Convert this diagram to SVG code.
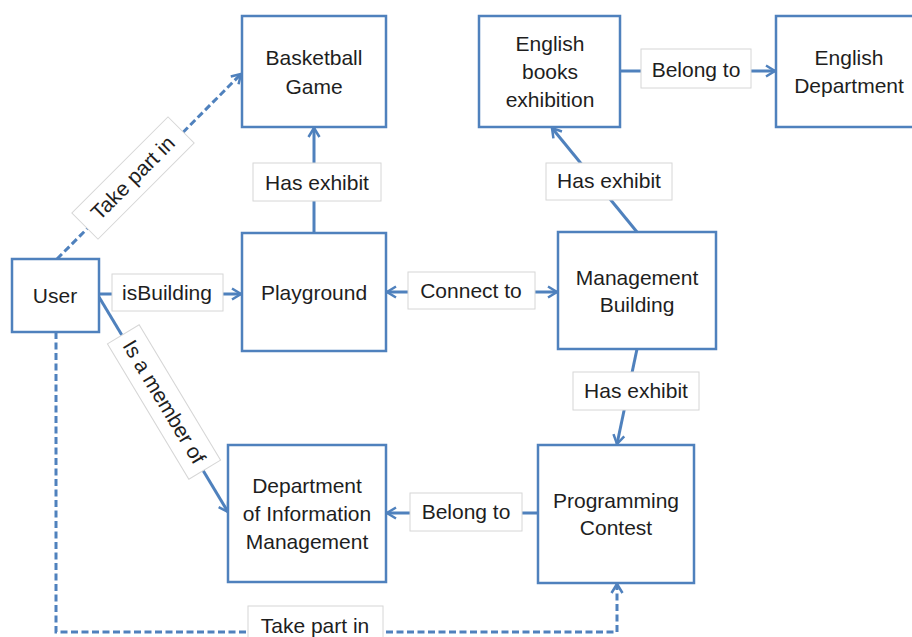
<svg xmlns="http://www.w3.org/2000/svg" width="912" height="637" viewBox="0 0 912 637">
<style>
.node rect{fill:#fff;stroke:#4F81BD;stroke-width:2.5}
.node text,.lbl text{font-family:"Liberation Sans",Arial,sans-serif;font-size:21px;fill:#1e1e1e;text-anchor:middle}
.lbl rect{fill:#fff;stroke:#d6d6d6;stroke-width:1}
.edge{fill:none;stroke:#4F81BD;stroke-width:3}
.dash{stroke-dasharray:7 3.5}
</style>
<defs>
<marker id="arr" markerUnits="userSpaceOnUse" markerWidth="14" markerHeight="14" viewBox="0 0 14 14" refX="11" refY="7" orient="auto-start-reverse">
<path d="M2,1.5 L11,7 L2,12.5" fill="none" stroke="#4F81BD" stroke-width="2.5"/>
</marker>
</defs>
<g id="connectors">
<path class="edge dash" d="M57,259 L241,74" marker-end="url(#arr)"/>
<path class="edge" d="M99,294 L241,294" marker-end="url(#arr)"/>
<path class="edge" d="M99,297 L228,512" marker-end="url(#arr)"/>
<path class="edge" d="M314,233 L314,128" marker-end="url(#arr)"/>
<path class="edge" d="M387,292 L557,292" marker-start="url(#arr)" marker-end="url(#arr)"/>
<path class="edge" d="M637,232 L552,128" marker-end="url(#arr)"/>
<path class="edge" d="M620,71 L775,71" marker-end="url(#arr)"/>
<path class="edge" d="M637,349 L617,444" marker-end="url(#arr)"/>
<path class="edge" d="M537,513 L387,513" marker-end="url(#arr)"/>
<path class="edge dash" d="M56,332 L56,632 L617,632 L617,584" marker-end="url(#arr)"/>
</g>
<g id="labels">
<g class="lbl" transform="translate(133,178) rotate(-45)"><rect x="-68" y="-18.5" width="136" height="37"/><text x="0" y="7">Take part in</text></g>
<g class="lbl"><rect x="112" y="274" width="111" height="37"/><text x="167" y="300">isBuilding</text></g>
<g class="lbl"><rect x="253" y="163" width="128" height="38"/><text x="317" y="190">Has exhibit</text></g>
<g class="lbl" transform="translate(164,402) rotate(59)"><rect x="-79" y="-18.5" width="158" height="37"/><text x="0" y="7">Is a member of</text></g>
<g class="lbl"><rect x="408" y="272" width="127" height="37"/><text x="471" y="298">Connect to</text></g>
<g class="lbl"><rect x="546" y="163" width="126" height="37"/><text x="609" y="188">Has exhibit</text></g>
<g class="lbl"><rect x="641" y="49" width="110" height="39"/><text x="696" y="77">Belong to</text></g>
<g class="lbl"><rect x="573" y="372" width="126" height="38"/><text x="636" y="398">Has exhibit</text></g>
<g class="lbl"><rect x="410" y="493" width="112" height="38"/><text x="466" y="519">Belong to</text></g>
<g class="lbl"><rect x="248" y="606" width="135" height="40"/><text x="315" y="633">Take part in</text></g>
</g>
<g id="user" class="node"><rect x="12" y="259" width="87" height="73"/><text x="55" y="303">User</text></g>
<g id="basketball" class="node"><rect x="242" y="16" width="144" height="111"/><text x="314" y="65">Basketball</text><text x="314" y="94">Game</text></g>
<g id="playground" class="node"><rect x="242" y="233" width="144" height="118"/><text x="314" y="300">Playground</text></g>
<g id="english-books" class="node"><rect x="479" y="16" width="141" height="111"/><text x="550" y="51">English</text><text x="550" y="79">books</text><text x="550" y="107">exhibition</text></g>
<g id="english-dept" class="node"><rect x="776" y="16" width="146" height="111"/><text x="849" y="65">English</text><text x="849" y="93">Department</text></g>
<g id="management" class="node"><rect x="558" y="232" width="158" height="117"/><text x="637" y="285">Management</text><text x="637" y="312">Building</text></g>
<g id="programming" class="node"><rect x="538" y="445" width="156" height="138"/><text x="616" y="508">Programming</text><text x="616" y="535">Contest</text></g>
<g id="dim" class="node"><rect x="228" y="445" width="158" height="137"/><text x="307" y="493">Department</text><text x="307" y="521">of Information</text><text x="307" y="549">Management</text></g>
</svg>
